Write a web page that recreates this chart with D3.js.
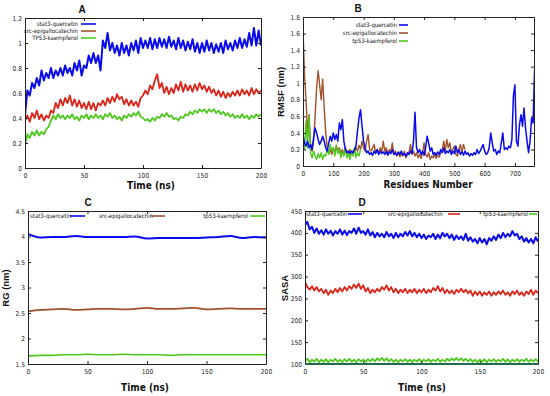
<!DOCTYPE html>
<html><head><meta charset="utf-8">
<script src="https://cdn.jsdelivr.net/npm/d3@7"></script>
<style>body{margin:0;background:#fff}svg{display:block}</style>
</head><body>
<svg id="c" width="550" height="396"></svg>
<script>
// ---------- DATA ----------
// Panel A: RMSD (nm) vs time, every 2 ns
const timeA = d3.range(0, 201, 2);
const rmsdStat3 = [
0.42,0.62,0.58,0.68,0.64,0.72,0.66,0.78,0.70,0.76,
0.72,0.80,0.72,0.78,0.74,0.80,0.74,0.82,0.76,0.80,
0.74,0.84,0.78,0.86,0.74,0.82,0.80,0.90,0.84,0.92,
0.84,0.90,0.78,1.02,0.96,1.08,0.94,1.00,0.92,0.98,
0.90,1.00,0.92,0.98,0.90,1.00,0.94,1.02,0.92,1.04,
0.96,1.02,0.96,1.04,0.95,1.03,0.96,1.04,0.97,1.03,
0.96,1.05,0.97,1.02,0.95,1.04,0.96,1.02,0.94,1.01,
0.95,1.03,0.93,1.00,0.92,1.00,0.93,1.02,0.94,1.00,
0.92,0.99,0.93,1.00,0.92,1.02,0.95,1.00,0.94,1.02,
0.96,1.04,0.96,1.03,0.97,1.08,0.98,1.12,0.98,1.10,
0.98];
const rmsdSrc = [
0.38,0.42,0.37,0.44,0.40,0.46,0.39,0.43,0.38,0.42,
0.40,0.46,0.44,0.52,0.48,0.55,0.50,0.56,0.52,0.58,
0.50,0.55,0.49,0.54,0.48,0.52,0.47,0.53,0.47,0.52,
0.46,0.52,0.50,0.54,0.50,0.56,0.52,0.57,0.53,0.59,
0.55,0.57,0.51,0.55,0.50,0.54,0.50,0.53,0.49,0.56,
0.58,0.62,0.59,0.66,0.63,0.70,0.75,0.64,0.68,0.60,
0.65,0.59,0.64,0.60,0.67,0.62,0.69,0.61,0.67,0.62,
0.66,0.61,0.67,0.62,0.68,0.63,0.66,0.61,0.65,0.60,
0.63,0.58,0.62,0.57,0.61,0.56,0.60,0.57,0.61,0.58,
0.62,0.58,0.63,0.59,0.62,0.58,0.64,0.59,0.63,0.60,
0.62];
const rmsdTp53 = [
0.18,0.27,0.24,0.29,0.26,0.30,0.26,0.29,0.27,0.31,
0.33,0.38,0.42,0.39,0.43,0.40,0.42,0.39,0.42,0.40,
0.43,0.39,0.41,0.38,0.42,0.40,0.43,0.39,0.42,0.40,
0.43,0.40,0.42,0.39,0.43,0.41,0.44,0.40,0.42,0.39,
0.41,0.38,0.42,0.40,0.43,0.41,0.44,0.42,0.45,0.41,
0.40,0.38,0.39,0.37,0.40,0.38,0.41,0.40,0.43,0.41,
0.44,0.41,0.42,0.39,0.40,0.38,0.41,0.40,0.43,0.42,
0.45,0.43,0.46,0.44,0.47,0.45,0.47,0.44,0.47,0.45,
0.47,0.44,0.46,0.43,0.45,0.42,0.44,0.41,0.43,0.40,
0.42,0.40,0.43,0.40,0.42,0.39,0.42,0.40,0.43,0.41,
0.43];

// Panel B: RMSF (nm) per residue, every 5 residues
const resStat3 = d3.range(0, 766, 5);
const rmsfStat3 = [
0.38,0.28,0.24,0.30,0.22,0.26,0.20,0.34,0.46,0.40,
0.32,0.26,0.30,0.36,0.30,0.22,0.18,0.28,0.36,0.30,
0.40,0.32,0.38,0.30,0.52,0.44,0.56,0.30,0.20,0.16,
0.18,0.15,0.18,0.16,0.20,0.24,0.42,0.58,0.68,0.48,
0.30,0.22,0.16,0.18,0.14,0.16,0.13,0.18,0.15,0.20,
0.14,0.18,0.15,0.17,0.14,0.18,0.13,0.17,0.15,0.20,
0.14,0.16,0.13,0.17,0.14,0.18,0.13,0.15,0.12,0.16,
0.14,0.18,0.15,0.30,0.65,0.22,0.16,0.20,0.14,0.18,
0.13,0.22,0.36,0.28,0.18,0.22,0.14,0.16,0.13,0.17,
0.14,0.20,0.16,0.22,0.15,0.18,0.16,0.20,0.14,0.18,
0.15,0.24,0.16,0.20,0.14,0.17,0.13,0.18,0.14,0.16,
0.12,0.15,0.13,0.16,0.14,0.20,0.15,0.18,0.22,0.26,
0.18,0.14,0.16,0.22,0.40,0.28,0.18,0.20,0.14,0.18,
0.16,0.28,0.40,0.20,0.22,0.20,0.24,0.22,0.32,0.85,
0.98,0.30,0.24,0.50,0.62,0.48,0.70,0.46,0.30,0.16,
0.30,0.58,0.52,1.18];
const resSrc = d3.range(0, 536, 5);
const rmsfSrc = [
1.65,1.10,0.80,0.40,0.62,0.26,0.18,0.30,0.60,0.95,
1.15,0.98,0.80,1.05,0.70,0.40,0.22,0.15,0.20,0.14,
0.22,0.16,0.25,0.18,0.22,0.15,0.20,0.14,0.22,0.18,
0.15,0.20,0.14,0.18,0.16,0.22,0.18,0.25,0.20,0.30,
0.22,0.18,0.30,0.38,0.20,0.18,0.22,0.26,0.16,0.20,
0.15,0.22,0.16,0.30,0.18,0.22,0.14,0.20,0.16,0.28,
0.14,0.18,0.12,0.16,0.11,0.15,0.12,0.18,0.10,0.14,
0.16,0.26,0.14,0.18,0.12,0.16,0.10,0.14,0.09,0.16,
0.28,0.14,0.11,0.16,0.08,0.12,0.10,0.14,0.09,0.13,
0.11,0.16,0.20,0.30,0.18,0.32,0.22,0.28,0.16,0.20,
0.24,0.14,0.12,0.20,0.26,0.16,0.26,0.20];
const resTp53 = d3.range(0, 191, 5);
const rmsfTp53 = [
0.30,0.20,0.55,0.22,0.60,0.15,0.10,0.18,0.12,0.08,
0.15,0.10,0.16,0.08,0.14,0.12,0.20,0.14,0.26,0.18,
0.22,0.12,0.24,0.15,0.20,0.10,0.18,0.12,0.22,0.10,
0.16,0.08,0.18,0.12,0.22,0.10,0.16,0.12,0.20];

// Panel C: Radius of gyration (nm), every 10 ns
const timeC = d3.range(0, 201, 10);
const rgStat3 = [4.05,3.98,3.99,3.99,4.01,3.99,3.99,3.99,3.99,4.00,3.96,3.97,3.97,3.97,3.97,3.98,3.99,4.01,3.97,3.99,3.98];
const rgSrc   = [2.53,2.56,2.57,2.58,2.56,2.57,2.58,2.58,2.57,2.58,2.60,2.58,2.58,2.59,2.60,2.57,2.58,2.59,2.58,2.58,2.58];
const rgTp53  = [1.66,1.67,1.67,1.68,1.68,1.69,1.68,1.68,1.69,1.68,1.68,1.68,1.67,1.68,1.68,1.68,1.68,1.68,1.68,1.68,1.68];

// Panel D: SASA, every 2 ns
const timeD = d3.range(0, 201, 2);
const sasaStat3 = [
418,425,408,414,400,410,398,406,396,408,
398,405,394,404,398,408,396,405,395,404,
400,410,398,412,400,404,396,408,394,402,
390,400,392,398,390,402,392,398,388,400,
390,398,392,402,394,404,392,400,390,398,
388,396,386,394,390,398,386,396,388,400,
392,398,388,396,384,394,386,392,384,398,
382,390,380,386,376,388,378,386,374,388,
382,392,384,396,388,400,390,398,392,404,
394,398,386,392,380,388,378,386,376,390,
380];
const sasaSrc = [
288,276,270,278,268,276,266,272,262,270,
258,268,262,272,264,274,266,276,268,278,
272,282,274,284,272,280,266,274,262,270,
264,272,266,276,270,280,268,276,264,272,
262,270,264,272,262,270,264,272,262,270,
264,272,262,270,264,274,268,278,266,274,
262,270,262,268,260,270,264,272,264,270,
262,268,256,266,258,266,256,264,258,266,
256,264,258,266,260,268,258,264,256,266,
260,268,258,264,256,266,260,270,258,268,
262];
const sasaTp53 = [
106,112,104,110,106,112,104,110,105,111,
104,110,106,112,105,110,104,111,106,112,
105,110,104,111,106,110,105,111,106,112,
106,113,108,114,107,113,106,111,105,110,
104,110,106,111,105,110,104,110,106,111,
105,110,106,111,105,110,106,112,105,110,
106,112,107,113,108,114,108,113,107,112,
106,111,105,110,104,110,105,111,104,110,
106,111,105,110,106,112,105,111,104,110,
106,111,105,110,106,112,105,110,106,111,
106];

const ticksTime = [0, 50, 100, 150, 200];
const ticksRmsd = [0, 0.2, 0.4, 0.6, 0.8, 1, 1.2];
const ticksRes = [0, 100, 200, 300, 400, 500, 600, 700];
const ticksRmsf = [0, 0.2, 0.4, 0.6, 0.8, 1, 1.2, 1.4, 1.6, 1.8];
const ticksRg = [1.5, 2, 2.5, 3, 3.5, 4, 4.5];
const ticksSasa = [100, 150, 200, 250, 300, 350, 400, 450];

// ---------- DRAW ----------
const svg = d3.select("#c");
const FONT = "'DejaVu Sans Condensed','Liberation Sans Narrow','Liberation Sans',sans-serif";
const BLUE = "#0a0aee", RED = "#dc2418", BROWN = "#a0522d", GREEN = "#4cc81e";

function panel(o) {
  const x = d3.scaleLinear().domain(o.xd).range([o.l, o.r]);
  const y = d3.scaleLinear().domain(o.yd).range([o.b, o.t]);
  const g = svg.append("g");
  const clipId = "clip" + o.title;
  g.append("clipPath").attr("id", clipId).append("rect")
    .attr("x", o.l).attr("y", o.t - 2).attr("width", o.r - o.l).attr("height", o.b - o.t + 2);
  const lg = g.append("g").attr("clip-path", `url(#${clipId})`);
  o.series.forEach(s => {
    const pts = s.x.map((v, i) => [v, s.y[i]]);
    const line = d3.line().x(d => x(d[0])).y(d => y(d[1]));
    if (s.curve) line.curve(s.curve);
    lg.append("path").attr("d", line(pts)).attr("fill", "none")
      .attr("stroke", s.color).attr("stroke-width", s.w || 1.2).attr("stroke-linejoin", "round");
  });
  const fmt = d3.format("");
  const styleAxis = (a, show) => {
    a.selectAll("path.domain").attr("stroke", "#222").attr("stroke-width", 1);
    a.selectAll(".tick line").attr("stroke", "#222");
    a.selectAll("text").attr("font-family", FONT).attr("font-size", 6.6).attr("fill", "#222");
    if (!show) a.selectAll("text").remove();
  };
  const ax = g.append("g").attr("transform", `translate(0,${o.b})`)
    .call(d3.axisBottom(x).tickValues(o.xt).tickFormat(fmt).tickSize(-3).tickSizeOuter(0).tickPadding(5));
  styleAxis(ax, true);
  const axt = g.append("g").attr("transform", `translate(0,${o.t})`)
    .call(d3.axisTop(x).tickValues(o.xt).tickSize(-3).tickSizeOuter(0));
  styleAxis(axt, false);
  const ay = g.append("g").attr("transform", `translate(${o.l},0)`)
    .call(d3.axisLeft(y).tickValues(o.yt).tickFormat(fmt).tickSize(-3).tickSizeOuter(0).tickPadding(3));
  styleAxis(ay, true);
  const ayr = g.append("g").attr("transform", `translate(${o.r},0)`)
    .call(d3.axisRight(y).tickValues(o.yt).tickSize(-3).tickSizeOuter(0));
  styleAxis(ayr, false);
  if (o.bottomColor) {
    g.append("line").attr("x1", o.l).attr("x2", o.r).attr("y1", o.b).attr("y2", o.b)
      .attr("stroke", o.bottomColor).attr("stroke-width", 2);
  }
  // title
  g.append("text").attr("x", o.tx).attr("y", o.ty).attr("text-anchor", "middle")
    .attr("font-family", "'Liberation Sans',Arial,sans-serif").attr("font-weight", "bold")
    .attr("font-size", 10).attr("fill", "#111").text(o.title);
  // axis titles
  g.append("text").attr("x", o.xlx).attr("y", o.xly).attr("text-anchor", "middle")
    .attr("font-family", FONT).attr("font-weight", "bold").attr("font-size", 10)
    .attr("fill", "#111").text(o.xlabel);
  if (o.ylabel) {
    g.append("text").attr("transform", `translate(${o.ylx},${o.yly}) rotate(-90)`)
      .attr("text-anchor", "middle").attr("font-family", "'Liberation Sans',Arial,sans-serif")
      .attr("font-weight", "bold").attr("font-size", 9.5).attr("fill", "#111").text(o.ylabel);
  }
  // legend
  o.legend.forEach(L => {
    g.append("text").attr("x", L.x).attr("y", L.y + 2).attr("text-anchor", L.anchor)
      .attr("font-family", FONT).attr("font-size", 6).attr("fill", "#111").text(L.text);
    g.append("line").attr("x1", L.lx1).attr("x2", L.lx2).attr("y1", L.y).attr("y2", L.y)
      .attr("stroke", L.color).attr("stroke-width", 1.6);
  });
}

panel({
  title: "A", tx: 82, ty: 13,
  l: 25, r: 261, t: 18, b: 168, xd: [0, 200], yd: [0, 1.2],
  xt: ticksTime, yt: ticksRmsd,
  xlabel: "Time (ns)", xlx: 151, xly: 189, ylabel: "", ylx: 6, yly: 92,
  series: [
    { x: timeA, y: rmsdTp53, color: GREEN, w: 1.8 },
    { x: timeA, y: rmsdSrc, color: RED, w: 1.8 },
    { x: timeA, y: rmsdStat3, color: BLUE, w: 2 }
  ],
  legend: [
    { text: "stat3-quercetin", x: 78, y: 24, anchor: "end", lx1: 81, lx2: 96, color: BLUE },
    { text: "src-epigallocatechin", x: 78, y: 31, anchor: "end", lx1: 81, lx2: 96, color: BROWN },
    { text: "TP53-kaempferol", x: 78, y: 38, anchor: "end", lx1: 81, lx2: 96, color: GREEN }
  ]
});

panel({
  title: "B", tx: 358, ty: 12,
  l: 303, r: 534, t: 17, b: 166, xd: [0, 763], yd: [0, 1.8],
  xt: ticksRes, yt: ticksRmsf,
  xlabel: "Residues Number", xlx: 428, xly: 188, ylabel: "RMSF (nm)", ylx: 284, yly: 92,
  series: [
    { x: resSrc, y: rmsfSrc, color: BROWN, w: 1.4 },
    { x: resTp53, y: rmsfTp53, color: GREEN, w: 1.4 },
    { x: resStat3, y: rmsfStat3, color: BLUE, w: 1.5 }
  ],
  legend: [
    { text: "stat3-quercetin", x: 397, y: 25, anchor: "end", lx1: 399, lx2: 408, color: BLUE },
    { text: "src-epigallocatechin", x: 397, y: 33, anchor: "end", lx1: 399, lx2: 408, color: BROWN },
    { text: "tp53-kaempferol", x: 397, y: 41, anchor: "end", lx1: 399, lx2: 408, color: GREEN }
  ]
});

panel({
  title: "C", tx: 88, ty: 206,
  l: 28, r: 266, t: 211, b: 364, xd: [0, 200], yd: [1.5, 4.5],
  xt: ticksTime, yt: ticksRg,
  xlabel: "Time (ns)", xlx: 145, xly: 391, ylabel: "RG (nm)", ylx: 9, yly: 288,
  series: [
    { x: timeC, y: rgStat3, color: BLUE, w: 2, curve: d3.curveMonotoneX },
    { x: timeC, y: rgSrc, color: BROWN, w: 1.8, curve: d3.curveMonotoneX },
    { x: timeC, y: rgTp53, color: GREEN, w: 1.6, curve: d3.curveMonotoneX }
  ],
  legend: [
    { text: "stat3-quercetin", x: 30, y: 216, anchor: "start", lx1: 70, lx2: 85, color: BLUE },
    { text: "src-epigallocatechin", x: 99, y: 216, anchor: "start", lx1: 151, lx2: 165, color: BROWN },
    { text: "tp53-kaempferol", x: 248, y: 216, anchor: "end", lx1: 250, lx2: 265, color: GREEN }
  ]
});

panel({
  title: "D", tx: 362, ty: 206,
  l: 305, r: 538, t: 211, b: 364, xd: [0, 200], yd: [100, 450],
  xt: ticksTime, yt: ticksSasa,
  xlabel: "Time (ns)", xlx: 422, xly: 391, ylabel: "SASA", ylx: 288, yly: 288,
  bottomColor: "#1f6a48",
  series: [
    { x: timeD, y: sasaTp53, color: GREEN, w: 1.8 },
    { x: timeD, y: sasaSrc, color: RED, w: 1.8 },
    { x: timeD, y: sasaStat3, color: BLUE, w: 2 }
  ],
  legend: [
    { text: "stat3-quercetin", x: 306, y: 214, anchor: "start", lx1: 348, lx2: 362, color: BLUE },
    { text: "src-epigallodatechin", x: 388, y: 214, anchor: "start", lx1: 448, lx2: 460, color: RED },
    { text: "tp53-kaempferol", x: 528, y: 214, anchor: "end", lx1: 529, lx2: 537, color: GREEN }
  ]
});
</script>
</body></html>
